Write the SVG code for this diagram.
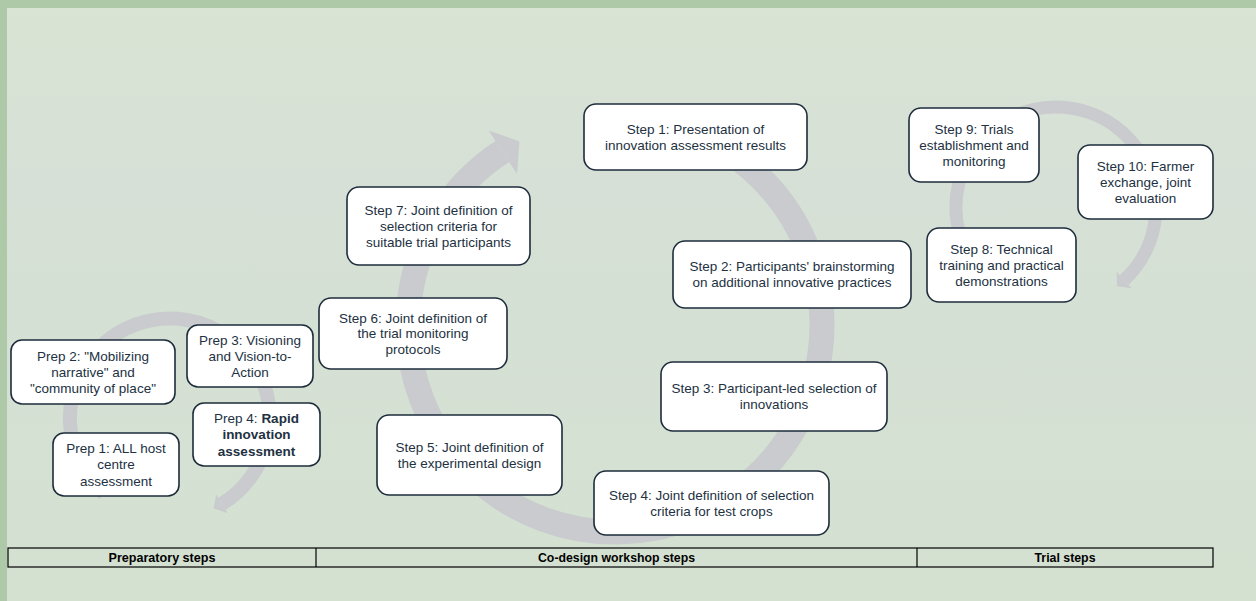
<svg xmlns="http://www.w3.org/2000/svg" width="1256" height="601" viewBox="0 0 1256 601">
<defs>
<linearGradient id="bg" x1="0" y1="0" x2="0" y2="1">
<stop offset="0" stop-color="#d9e4d4"/>
<stop offset="0.3" stop-color="#d6e0d6"/>
<stop offset="1" stop-color="#d4e1d1"/>
</linearGradient>
<style>
.box{fill:#ffffff;stroke:#1d2c3b;stroke-width:1.6}
.t{font-family:"Liberation Sans",Arial,sans-serif;font-size:13.5px;fill:#22313f;text-anchor:middle}
.b{font-weight:bold}
.arc{fill:none;stroke:#c9cbce;stroke-linecap:butt}
.head{fill:#c9cbce}
.tbl{fill:none;stroke:#000;stroke-width:1.2}
.th{font-family:"Liberation Sans",Arial,sans-serif;font-size:12.5px;font-weight:bold;fill:#000;text-anchor:middle}
</style>
</defs>
<rect x="0" y="0" width="1256" height="601" fill="url(#bg)"/>
<rect x="0" y="0" width="1256" height="8" fill="#aec9a8"/>
<rect x="0" y="0" width="7" height="601" fill="#aec9a8"/>

<g id="connectors">
<path class="arc" stroke-width="14" d="M 104 493.7 A 100 100 0 1 1 222 503.8"/>
<polygon class="head" points="216.2,494.5 227.8,513.1 213.6,508.5"/>
<path class="arc" stroke-width="25" d="M 685.8 130.5 A 207 207 0 1 1 502.3 151.4"/>
<polygon class="head" points="517.0,174.0 488.7,130.4 519.4,141.4"/>
<path class="arc" stroke-width="13" d="M 969.4 257 A 100 100 0 1 1 1124.2 280.1"/>
<polygon class="head" points="1116.7,272.1 1131.7,288.2 1116.9,286.3"/>
</g>

<g id="prep2"><rect class="box" x="11" y="340" width="164" height="64" rx="11"/>
<text class="t" x="93" y="360.5">Prep 2: "Mobilizing</text>
<text class="t" x="93" y="376.8">narrative" and</text>
<text class="t" x="93" y="393.1">"community of place"</text></g>

<g id="prep3"><rect class="box" x="187" y="325" width="126" height="62" rx="11"/>
<text class="t" x="250" y="344.5">Prep 3: Visioning</text>
<text class="t" x="250" y="360.8">and Vision-to-</text>
<text class="t" x="250" y="377.1">Action</text></g>

<g id="prep4"><rect class="box" x="193" y="403" width="127" height="63" rx="11"/>
<text class="t" x="256.5" y="423">Prep 4: <tspan class="b">Rapid</tspan></text>
<text class="t b" x="256.5" y="439.3">innovation</text>
<text class="t b" x="256.5" y="455.6">assessment</text></g>

<g id="prep1"><rect class="box" x="53" y="433" width="126" height="63" rx="11"/>
<text class="t" x="116" y="453">Prep 1: ALL host</text>
<text class="t" x="116" y="469.3">centre</text>
<text class="t" x="116" y="485.6">assessment</text></g>

<g id="step7"><rect class="box" x="347" y="187" width="183" height="78" rx="12"/>
<text class="t" x="438.5" y="214.5">Step 7: Joint definition of</text>
<text class="t" x="438.5" y="230.8">selection criteria for</text>
<text class="t" x="438.5" y="247.1">suitable trial participants</text></g>

<g id="step6"><rect class="box" x="319" y="298" width="188" height="71" rx="12"/>
<text class="t" x="413" y="322.5">Step 6: Joint definition of</text>
<text class="t" x="413" y="338.3">the trial monitoring</text>
<text class="t" x="413" y="354.1">protocols</text></g>

<g id="step5"><rect class="box" x="377" y="415" width="185" height="80" rx="12"/>
<text class="t" x="469.5" y="451.6">Step 5: Joint definition of</text>
<text class="t" x="469.5" y="467.9">the experimental design</text></g>

<g id="step1"><rect class="box" x="584" y="104" width="223" height="66" rx="12"/>
<text class="t" x="695.5" y="133.6">Step 1: Presentation of</text>
<text class="t" x="695.5" y="149.9">innovation assessment results</text></g>

<g id="step2"><rect class="box" x="673" y="241" width="238" height="67" rx="12"/>
<text class="t" x="792" y="271.1">Step 2: Participants' brainstorming</text>
<text class="t" x="792" y="287.4">on additional innovative practices</text></g>

<g id="step3"><rect class="box" x="661" y="362" width="226" height="69" rx="12"/>
<text class="t" x="774" y="393.1">Step 3: Participant-led selection of</text>
<text class="t" x="774" y="409.4">innovations</text></g>

<g id="step4"><rect class="box" x="594" y="471" width="235" height="64" rx="12"/>
<text class="t" x="711.5" y="499.6">Step 4: Joint definition of selection</text>
<text class="t" x="711.5" y="515.9">criteria for test crops</text></g>

<g id="step9"><rect class="box" x="909" y="108" width="130" height="74" rx="12"/>
<text class="t" x="974" y="133.5">Step 9: Trials</text>
<text class="t" x="974" y="149.8">establishment and</text>
<text class="t" x="974" y="166.1">monitoring</text></g>

<g id="step10"><rect class="box" x="1078" y="145" width="135" height="74" rx="12"/>
<text class="t" x="1145.5" y="170.5">Step 10: Farmer</text>
<text class="t" x="1145.5" y="186.8">exchange, joint</text>
<text class="t" x="1145.5" y="203.1">evaluation</text></g>

<g id="step8"><rect class="box" x="927" y="228" width="149" height="74" rx="12"/>
<text class="t" x="1001.5" y="253.5">Step 8: Technical</text>
<text class="t" x="1001.5" y="269.8">training and practical</text>
<text class="t" x="1001.5" y="286.1">demonstrations</text></g>

<g id="phases">
<rect class="tbl" x="8" y="548" width="1205" height="19"/>
<line class="tbl" x1="316" y1="548" x2="316" y2="567"/>
<line class="tbl" x1="917" y1="548" x2="917" y2="567"/>
<text class="th" x="162" y="562" textLength="107" lengthAdjust="spacingAndGlyphs">Preparatory steps</text>
<text class="th" x="616.5" y="562" textLength="157" lengthAdjust="spacingAndGlyphs">Co-design workshop steps</text>
<text class="th" x="1065" y="562" textLength="61" lengthAdjust="spacingAndGlyphs">Trial steps</text>
</g>
</svg>
